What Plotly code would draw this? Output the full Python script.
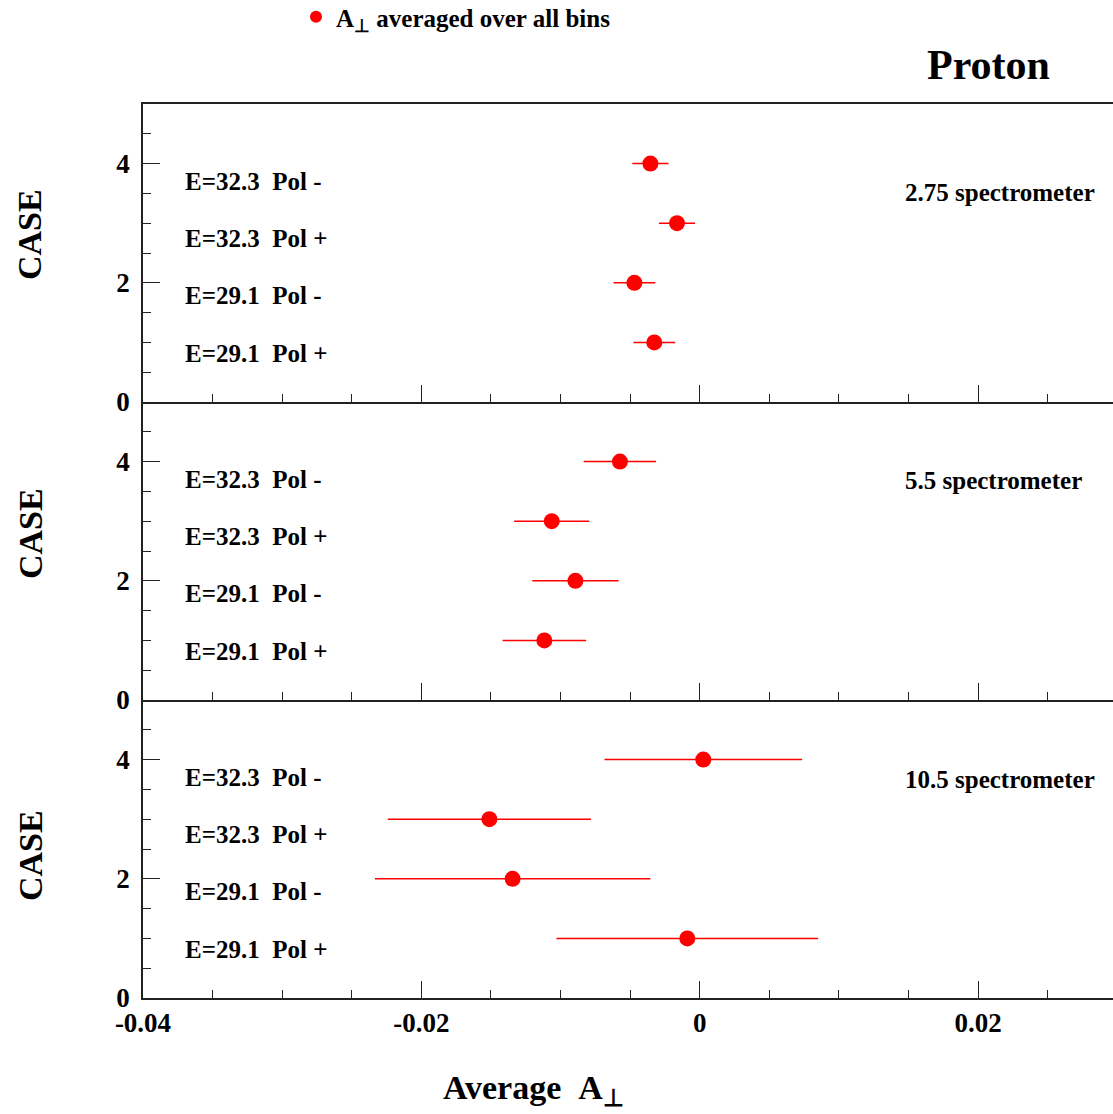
import plotly.graph_objects as go
from plotly.subplots import make_subplots

# ---------------- data ----------------
case = [4, 3, 2, 1]
case_labels = ["E=32.3\u00a0\u00a0Pol -", "E=32.3\u00a0\u00a0Pol +",
               "E=29.1\u00a0\u00a0Pol -", "E=29.1\u00a0\u00a0Pol +"]
label_y = [3.7, 2.74, 1.78, 0.81]

spectrometers = ["2.75 spectrometer", "5.5 spectrometer", "10.5 spectrometer"]
spec_label_y = [3.51, 3.68, 3.66]

a_275 = [-0.00354, -0.00163, -0.00469, -0.00326]
e_275 = [0.0013, 0.0013, 0.0015, 0.0015]
a_55 = [-0.00573, -0.01063, -0.00893, -0.01116]
e_55 = [0.0026, 0.0027, 0.0031, 0.0030]
a_105 = [0.00026, -0.01511, -0.01344, -0.00089]
e_105 = [0.0071, 0.0073, 0.0099, 0.0094]

x_tickvals = [-0.04, -0.02, 0, 0.02]
x_ticktext = ["-0.04", "-0.02", "0", "0.02"]

values = [a_275, a_55, a_105]
errors = [e_275, e_55, e_105]

FONT = "Liberation Serif"
RED = "#ff0000"

fig = make_subplots(rows=3, cols=1, shared_xaxes=True, vertical_spacing=0)

for i in range(3):
    fig.add_trace(go.Scatter(
        x=values[i], y=case, mode="markers",
        marker=dict(color=RED, size=16, symbol="circle"),
        error_x=dict(type="data", array=errors[i], visible=True,
                     color=RED, thickness=1.5, width=0),
        name="A<sub>⊥</sub> averaged over all bins",
        showlegend=(i == 0),
    ), row=i + 1, col=1)

for i in range(3):
    xa = dict(range=[-0.04, 0.0297], showline=True, linecolor="#222", linewidth=1.5,
              ticks="inside", ticklen=17, tickwidth=1, tickcolor="#222",
              tickvals=x_tickvals, ticktext=x_ticktext,
              minor=dict(dtick=0.005, tick0=0, ticks="inside", ticklen=8,
                         tickwidth=1, tickcolor="#222"),
              showgrid=False, zeroline=False,
              showticklabels=(i == 2),
              tickfont=dict(family=FONT, size=27, color="black", weight="bold"))
    if i == 0:
        xa["mirror"] = True
    fig.update_xaxes(**xa, row=i + 1, col=1)
    fig.update_yaxes(range=[0, 5], showline=True, linecolor="#222", linewidth=1.5,
                     ticks="inside", ticklen=17, tickwidth=1, tickcolor="#222",
                     tick0=0, dtick=2, ticklabelstandoff=6,
                     minor=dict(dtick=0.5, tick0=0, ticks="inside", ticklen=8,
                                tickwidth=1, tickcolor="#222"),
                     showgrid=False, zeroline=False,
                     tickfont=dict(family=FONT, size=27, color="black", weight="bold"),
                     row=i + 1, col=1)

annotations = []
yrefs = ["y", "y2", "y3"]
xrefs = ["x", "x2", "x3"]
for i in range(3):
    for lab, ly in zip(case_labels, label_y):
        annotations.append(dict(x=-0.0371, y=ly, xref=xrefs[i], yref=yrefs[i],
                                text=lab, showarrow=False, xanchor="left", yanchor="middle",
                                font=dict(family=FONT, size=25, color="black", weight="bold")))
    annotations.append(dict(x=0.01459, y=spec_label_y[i], xref=xrefs[i], yref=yrefs[i],
                            text=spectrometers[i], showarrow=False, xanchor="left",
                            yanchor="middle",
                            font=dict(family=FONT, size=25, color="black", weight="bold")))

case_y_px = [234, 533, 855]
for py in case_y_px:
    annotations.append(dict(x=-0.1165, y=(998 - py) / 894, xref="paper", yref="paper",
                            text="CASE", textangle=-90, showarrow=False,
                            xanchor="center", yanchor="middle",
                            font=dict(family=FONT, size=34, color="black", weight="bold")))

annotations.append(dict(x=(988 - 143) / 970, y=(998 - 65) / 894, xref="paper", yref="paper",
                        text="Proton", showarrow=False, xanchor="center", yanchor="middle",
                        font=dict(family=FONT, size=42, color="black", weight="bold")))
annotations.append(dict(x=(533 - 143) / 970, y=(998 - 1090) / 894, xref="paper", yref="paper",
                        text="Average\u00a0\u00a0A<sub>⊥</sub>", showarrow=False,
                        xanchor="center", yanchor="middle",
                        font=dict(family=FONT, size=34, color="black", weight="bold")))

fig.update_layout(
    width=1113, height=1114,
    margin=dict(l=143, r=0, t=104, b=116, autoexpand=False),
    paper_bgcolor="white", plot_bgcolor="white",
    annotations=annotations,
    showlegend=True,
    legend=dict(x=(296 - 143) / 970, y=(998 - 17) / 894, xanchor="left", yanchor="middle",
                itemsizing="constant", bgcolor="rgba(0,0,0,0)",
                font=dict(family=FONT, size=25, color="black", weight="bold")),
    font=dict(family=FONT, color="black"),
)

fig.write_html("out.html")
